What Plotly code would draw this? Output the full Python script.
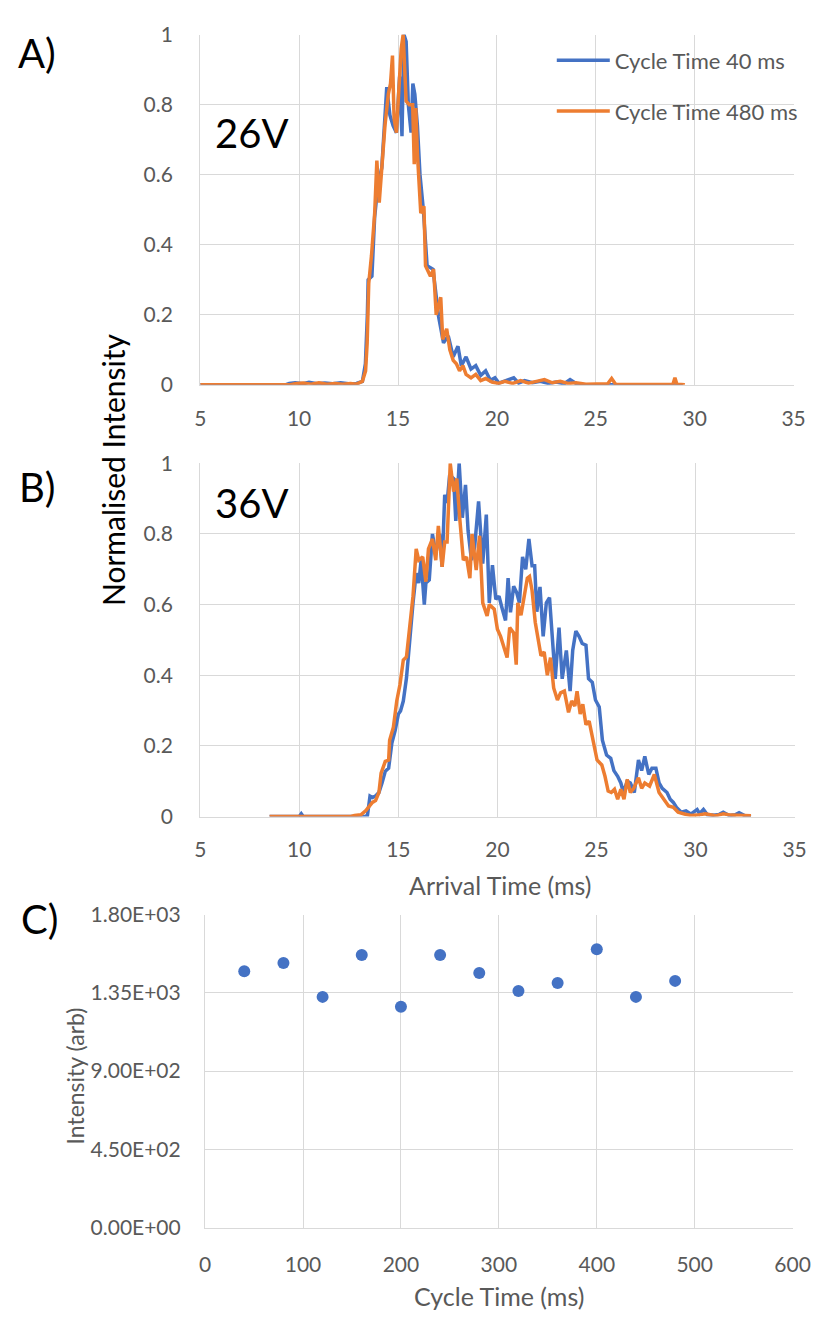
import plotly.graph_objects as go

W, H = 832, 1322
BLUE = "#4472C4"
ORANGE = "#ED7D31"
GRID = "#D9D9D9"
TICK = "#595959"
FONT = "Lato"

# ---------------- Panel A (26V) ----------------
a40_t = [5.0, 9.3, 9.5, 9.8, 10.2, 10.5, 10.9, 11.3, 11.7, 12.1, 12.5, 12.9, 13.2, 13.35, 13.45,
         13.49, 13.68, 13.82, 13.98, 14.18, 14.43, 14.59, 14.75, 14.92, 15.08, 15.20, 15.30, 15.41,
         15.52, 15.66, 15.75, 15.85, 15.98, 16.11, 16.28, 16.47, 16.77, 17.05, 17.30, 17.54, 17.79,
         18.03, 18.20, 18.44, 18.69, 18.93, 19.18, 19.43, 19.67, 19.9, 20.1, 20.5, 20.85, 21.1, 21.4,
         21.8, 22.2, 22.6, 23.0, 23.4, 23.7, 24.0, 24.3, 29.4]
a40_v = [0.0, 0.0, 0.004, 0.006, 0.003, 0.007, 0.003, 0.005, 0.003, 0.006, 0.003, 0.004, 0.01, 0.06, 0.2,
         0.30, 0.31, 0.48, 0.57, 0.62, 0.85, 0.77, 0.74, 0.72, 0.88, 0.71, 1.0, 0.98,
         0.80, 0.72, 0.86, 0.83, 0.74, 0.60, 0.50, 0.34, 0.33, 0.195, 0.12, 0.14, 0.08,
         0.11, 0.055, 0.08, 0.045, 0.055, 0.027, 0.04, 0.013, 0.02, 0.005, 0.012, 0.02, 0.005, 0.012,
         0.006, 0.01, 0.004, 0.008, 0.003, 0.015, 0.004, 0.0, 0.0]

a480_t = [5.0, 9.5, 9.8, 10.2, 10.6, 11.0, 11.4, 11.8, 12.2, 12.6, 12.9, 13.2, 13.36, 13.44, 13.52,
          13.66, 13.82, 13.93, 14.05, 14.18, 14.34, 14.51, 14.62, 14.72, 14.80, 14.92, 15.03, 15.16,
          15.26, 15.41, 15.57, 15.74, 15.82, 15.90, 15.98, 16.15, 16.31, 16.39, 16.64, 16.80, 16.93,
          17.16, 17.26, 17.46, 17.62, 17.79, 17.95, 18.11, 18.28, 18.44, 18.69, 18.93, 19.18, 19.43,
          19.75, 20.08, 20.4, 20.8, 21.2, 21.6, 22.0, 22.4, 22.8, 23.2, 23.6, 24.0, 24.5, 25.0, 25.6,
          25.8, 26.0, 27.0, 28.0, 28.9, 29.0, 29.1, 29.5]
a480_v = [0.0, 0.0, 0.003, 0.005, 0.002, 0.006, 0.002, 0.004, 0.002, 0.004, 0.002, 0.01, 0.04, 0.12, 0.29,
          0.37, 0.49, 0.64, 0.52, 0.62, 0.74, 0.83, 0.86, 0.94, 0.76, 0.72, 0.83, 0.96,
          1.0, 0.81, 0.80, 0.80, 0.63, 0.79, 0.66, 0.49, 0.51, 0.34, 0.31, 0.33, 0.20,
          0.25, 0.13, 0.16, 0.10, 0.07, 0.06, 0.04, 0.055, 0.03, 0.02, 0.03, 0.012, 0.018,
          0.008, 0.004, 0.01, 0.004, 0.012, 0.005, 0.01, 0.015, 0.006, 0.01, 0.004, 0.006, 0.002, 0.002, 0.003,
          0.018, 0.002, 0.001, 0.001, 0.002, 0.02, 0.002, 0.0]

# ---------------- Panel B (36V) ----------------
b40_t = [8.5, 10.0, 10.1, 10.2, 13.3, 13.44, 13.57, 13.69, 13.85, 14.02, 14.18, 14.34, 14.51, 14.67,
         14.84, 15.0, 15.11, 15.25, 15.41, 15.57, 15.74, 15.90, 16.03, 16.15, 16.31, 16.39, 16.56,
         16.72, 16.89, 17.08, 17.21, 17.34, 17.46, 17.59, 17.79, 17.90, 18.07, 18.23, 18.39, 18.52,
         18.69, 18.85, 19.05, 19.26, 19.44, 19.59, 19.75, 19.92, 20.08, 20.25, 20.41, 20.54, 20.66,
         20.82, 20.98, 21.11, 21.27, 21.43, 21.59, 21.75, 21.88, 21.99, 22.15, 22.31, 22.47, 22.63,
         22.76, 22.92, 23.11, 23.27, 23.48, 23.67, 23.80, 23.96, 24.12, 24.28, 24.47, 24.60, 24.79,
         24.95, 25.14, 25.30, 25.51, 25.72, 25.88, 26.07, 26.23, 26.36, 26.55, 26.71, 26.91, 27.12,
         27.28, 27.44, 27.64, 27.80, 28.0, 28.16, 28.32, 28.56, 28.72, 28.88, 29.04, 29.28, 29.52,
         29.76, 30.08, 30.2, 30.4, 30.6, 30.9, 31.2, 31.4, 31.7, 32.0, 32.2, 32.5, 32.8]
b40_v = [0.0, 0.0, 0.008, 0.0, 0.0, 0.003, 0.058, 0.054, 0.058, 0.068, 0.096, 0.128, 0.137, 0.207,
         0.244, 0.290, 0.299, 0.327, 0.392, 0.503, 0.605, 0.689, 0.661, 0.726, 0.60, 0.661, 0.670,
         0.80, 0.745, 0.80, 0.707, 0.911, 0.888, 0.967, 0.957, 0.837, 1.0, 0.846, 0.939, 0.809,
         0.726, 0.763, 0.892, 0.716, 0.855, 0.605, 0.712, 0.615, 0.624, 0.587, 0.555, 0.675, 0.578,
         0.652, 0.633, 0.605, 0.735, 0.70, 0.786, 0.71, 0.71, 0.58, 0.65, 0.51, 0.605, 0.62,
         0.52, 0.39, 0.535, 0.39, 0.47, 0.355, 0.47, 0.525, 0.51, 0.49, 0.485, 0.39, 0.38,
         0.33, 0.31, 0.216, 0.174, 0.165, 0.13, 0.114, 0.095, 0.068, 0.10, 0.095, 0.068, 0.16,
         0.13, 0.17, 0.119, 0.137, 0.137, 0.095, 0.08, 0.068, 0.049, 0.04, 0.026, 0.012, 0.016,
         0.007, 0.02, 0.008, 0.02, 0.005, 0.004, 0.006, 0.012, 0.003, 0.005, 0.011, 0.002, 0.0]

b480_t = [8.5, 12.6, 12.79, 13.11, 13.36, 13.52, 13.69, 13.85, 14.02, 14.13, 14.34, 14.51, 14.56,
          14.75, 14.92, 15.08, 15.25, 15.41, 15.57, 15.74, 15.90, 16.03, 16.23, 16.39, 16.52, 16.72,
          16.89, 17.02, 17.21, 17.34, 17.46, 17.62, 17.79, 17.95, 18.11, 18.28, 18.44, 18.61, 18.72,
          18.93, 19.10, 19.26, 19.48, 19.59, 19.84, 20.0, 20.16, 20.33, 20.49, 20.62, 20.82, 20.95,
          21.03, 21.19, 21.35, 21.51, 21.62, 21.75, 21.91, 22.07, 22.20, 22.36, 22.52, 22.68, 22.84,
          23.03, 23.19, 23.38, 23.59, 23.75, 23.91, 24.02, 24.18, 24.31, 24.47, 24.63, 24.82, 25.03,
          25.27, 25.43, 25.59, 25.75, 25.91, 26.07, 26.23, 26.39, 26.55, 26.71, 26.88, 27.12, 27.28,
          27.44, 27.68, 27.92, 28.16, 28.40, 28.64, 28.88, 29.12, 29.44, 29.76, 30.08, 30.5, 31.0,
          31.4, 31.8, 32.2, 32.8]
b480_v = [0.0, 0.0, 0.003, 0.005, 0.017, 0.03, 0.04, 0.045, 0.068, 0.123, 0.156, 0.16, 0.216,
          0.253, 0.327, 0.373, 0.443, 0.452, 0.54, 0.624, 0.758, 0.726, 0.735, 0.665, 0.758, 0.786,
          0.726, 0.823, 0.707, 0.777, 0.777, 1.0, 0.92, 0.957, 0.837, 0.726, 0.735, 0.675, 0.80,
          0.698, 0.795, 0.605, 0.568, 0.60, 0.587, 0.53, 0.51, 0.475, 0.45, 0.535, 0.52, 0.43,
          0.605, 0.57, 0.63, 0.675, 0.68, 0.64, 0.55, 0.50, 0.455, 0.466, 0.40, 0.45, 0.364,
          0.33, 0.35, 0.355, 0.295, 0.327, 0.313, 0.355, 0.29, 0.318, 0.26, 0.27, 0.216, 0.16,
          0.146, 0.114, 0.072, 0.068, 0.077, 0.049, 0.077, 0.049, 0.105, 0.068, 0.08, 0.11, 0.08,
          0.095, 0.086, 0.119, 0.068, 0.049, 0.03, 0.026, 0.012, 0.007, 0.003, 0.004, 0.008, 0.002,
          0.008, 0.004, 0.003, 0.002]

# ---------------- Panel C ----------------
cycle_times = [40, 80, 120, 160, 200, 240, 280, 320, 360, 400, 440, 480]
cycle_intensity = [1474, 1522, 1327, 1568, 1270, 1568, 1465, 1361, 1407, 1601, 1327, 1419]
c_ytick_vals = [0, 450, 900, 1350, 1800]
c_ytick_text = ["0.00E+00", "4.50E+02", "9.00E+02", "1.35E+03", "1.80E+03"]


def px(x):
    return x / W


def py(y):
    return 1 - y / H


fig = go.Figure()
fig.add_trace(go.Scatter(x=a40_t, y=a40_v, mode="lines", name="Cycle Time 40 ms",
                         line=dict(color=BLUE, width=3.5), legendgroup="g1", xaxis="x", yaxis="y"))
fig.add_trace(go.Scatter(x=a480_t, y=a480_v, mode="lines", name="Cycle Time 480 ms",
                         line=dict(color=ORANGE, width=3.5), legendgroup="g2", xaxis="x", yaxis="y"))
fig.add_trace(go.Scatter(x=b40_t, y=b40_v, mode="lines", showlegend=False,
                         line=dict(color=BLUE, width=3.5), xaxis="x2", yaxis="y2"))
fig.add_trace(go.Scatter(x=b480_t, y=b480_v, mode="lines", showlegend=False,
                         line=dict(color=ORANGE, width=3.5), xaxis="x2", yaxis="y2"))
fig.add_trace(go.Scatter(x=cycle_times, y=cycle_intensity, mode="markers", showlegend=False,
                         marker=dict(color=BLUE, size=12), xaxis="x3", yaxis="y3"))

common = dict(showgrid=True, gridcolor=GRID, gridwidth=1.3, showline=True, linecolor=GRID,
              linewidth=1.3, zeroline=False, ticks="", tickfont=dict(family=FONT, size=21, color=TICK))

fig.update_layout(
    width=W, height=H, margin=dict(l=0, r=0, t=0, b=0),
    paper_bgcolor="white", plot_bgcolor="white",
    font=dict(family=FONT, color=TICK),
    xaxis=dict(domain=[px(200), px(811)], anchor="y", range=[5, 35], tick0=5, dtick=5,
               ticklabelstandoff=15, **common),
    yaxis=dict(domain=[py(378), py(21)], anchor="x", range=[0, 1], dtick=0.2,
               ticklabelstandoff=22, **common),
    xaxis2=dict(domain=[px(200), px(812)], anchor="y2", range=[5, 35], tick0=5, dtick=5,
                ticklabelstandoff=14, **common),
    yaxis2=dict(domain=[py(818), py(458)], anchor="x2", range=[0, 1], dtick=0.2,
                ticklabelstandoff=22, **common),
    xaxis3=dict(domain=[px(205), px(810)], anchor="y3", range=[0, 600], dtick=100,
                ticklabelstandoff=18, **common),
    yaxis3=dict(domain=[py(1237), py(918)], anchor="x3", range=[0, 1800],
                tickvals=c_ytick_vals, ticktext=c_ytick_text, ticklabelstandoff=19, **common),
    legend=dict(x=px(562), y=py(26), xanchor="left", yanchor="top", bgcolor="rgba(0,0,0,0)",
                font=dict(family=FONT, size=22, color=TICK), tracegroupgap=19, itemwidth=53),
)

ann = [
    dict(text="A)", x=px(32), y=py(40), size=40, color="black"),
    dict(text="B)", x=px(32), y=py(482), size=40, color="black"),
    dict(text="C)", x=px(34), y=py(922), size=40, color="black"),
    dict(text="26V", x=px(253), y=py(121), size=40, color="black"),
    dict(text="36V", x=px(253), y=py(498), size=40, color="black"),
    dict(text="Arrival Time (ms)", x=px(509), y=py(888), size=25, color=TICK),
    dict(text="Cycle Time (ms)", x=px(508), y=py(1307), size=25, color=TICK),
]
for a in ann:
    fig.add_annotation(text=a["text"], x=a["x"], y=a["y"], xref="paper", yref="paper",
                       xanchor="center", yanchor="middle", showarrow=False,
                       font=dict(family=FONT, size=a["size"], color=a["color"]))
fig.add_annotation(text="Normalised Intensity", x=px(110), y=py(465), xref="paper", yref="paper",
                   textangle=-90, showarrow=False, xanchor="center", yanchor="middle",
                   font=dict(family=FONT, size=30, color="black"))
fig.add_annotation(text="Intensity (arb)", x=px(71), y=py(1082), xref="paper", yref="paper",
                   textangle=-90, showarrow=False, xanchor="center", yanchor="middle",
                   font=dict(family=FONT, size=23, color=TICK))

fig.write_html("out.html")
